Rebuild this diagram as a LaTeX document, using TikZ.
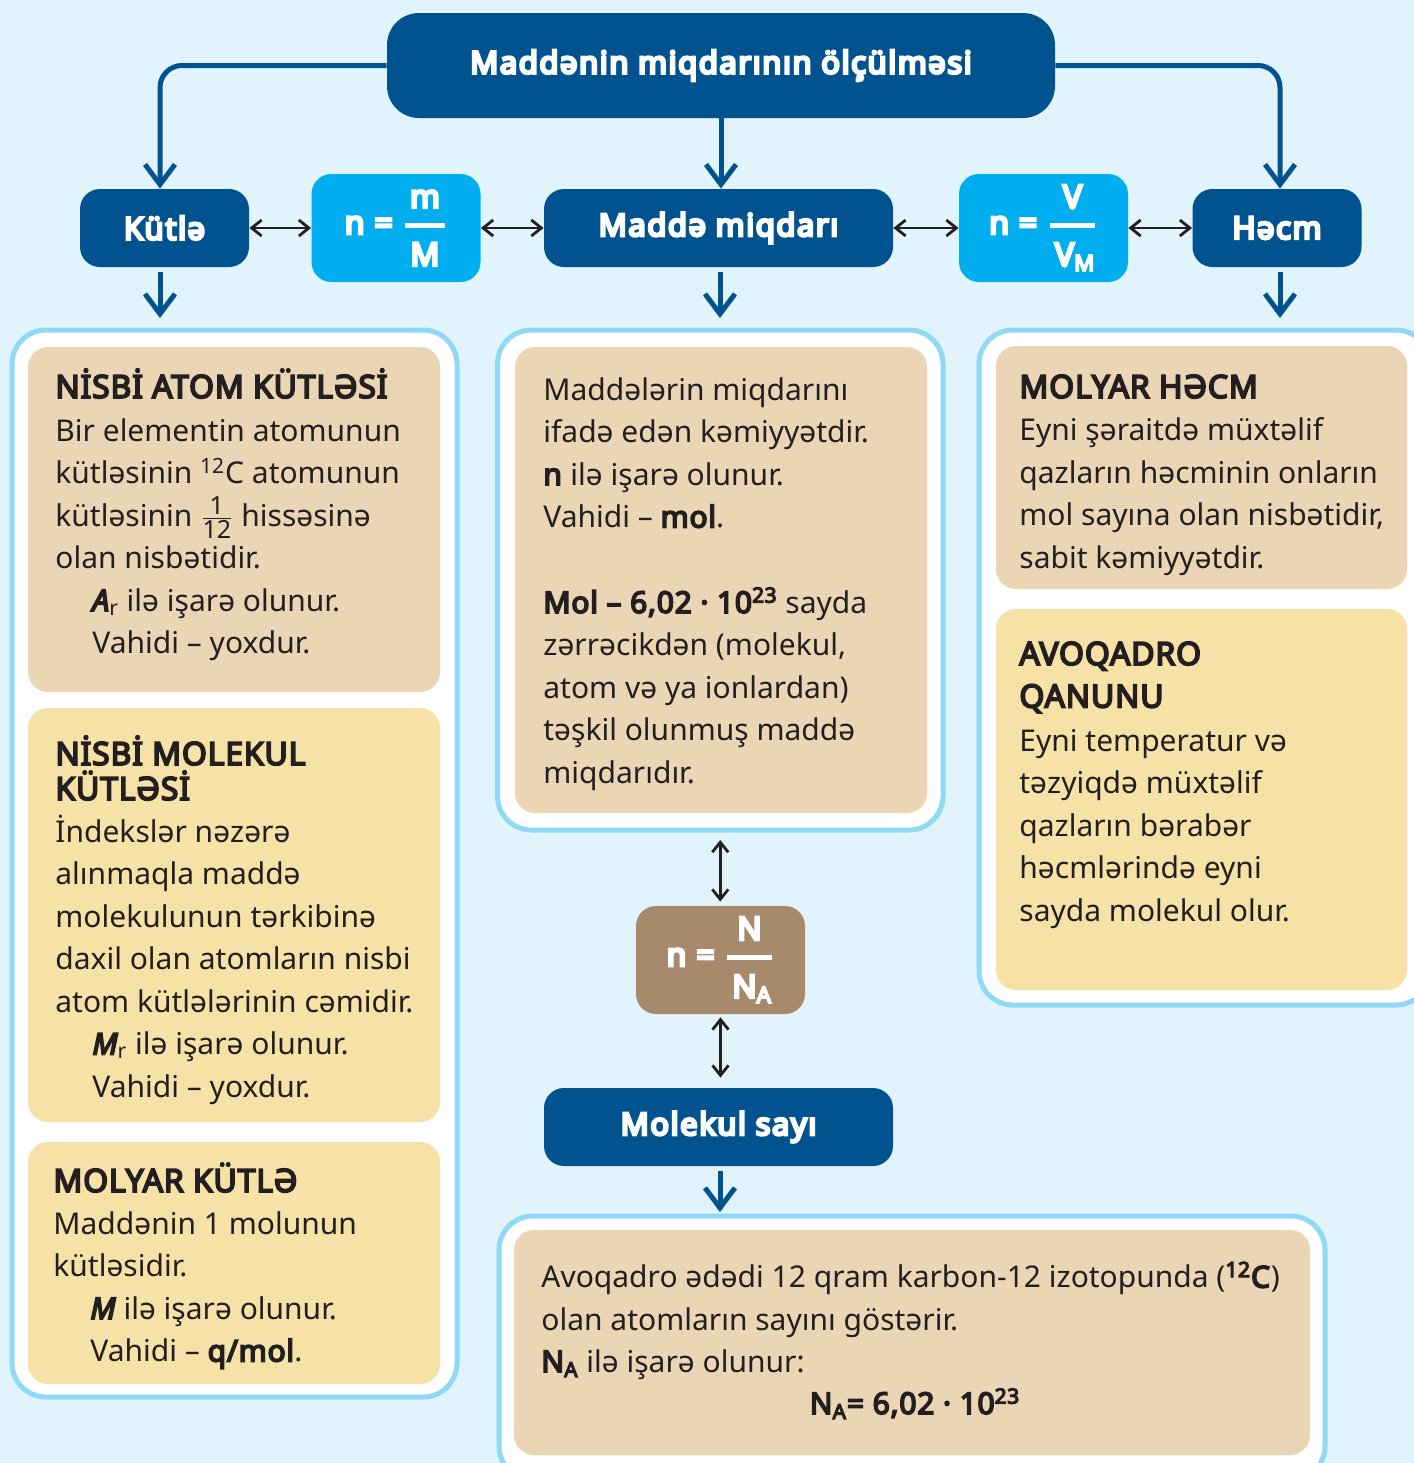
\documentclass[tikz,border=0pt]{standalone}
\usepackage{amsmath}
\usepackage{fontspec}
\usetikzlibrary{arrows.meta}
\setmainfont{Noto Sans}[BoldFont={Noto Sans}, BoldFeatures={FakeBold=5.5, LetterSpace=2.5},
  BoldItalicFeatures={FakeBold=5.5}]
\newfontfamily\heavyfont{Noto Sans}[FakeBold=8.5, LetterSpace=5]

\definecolor{bgblue}{HTML}{E1F3FB}
\definecolor{dblue}{HTML}{00538F}
\definecolor{cyanbox}{HTML}{00AEEF}
\definecolor{panelline}{HTML}{90D9F6}
\definecolor{tancard}{HTML}{EAD5B4}
\definecolor{yellowcard}{HTML}{F6E1A7}
\definecolor{brownbox}{HTML}{A68A6B}
\definecolor{inkcol}{HTML}{231F20}

\newcommand\txtbody{\fontsize{15}{18}\selectfont}
\newcommand\txthead{\fontsize{16}{19}\selectfont\bfseries}
\newcommand\txtbox{\heavyfont\fontsize{15.5}{19}\selectfont}
\newcommand\txtform{\heavyfont\fontsize{16}{19}\selectfont}

\begin{document}
\begin{tikzpicture}[x=0.5pt,y=-0.5pt,
  darkbox/.style={fill=dblue, rounded corners=10pt, text=white, font=\txtbox,
    inner sep=0pt, minimum width=84.5pt, minimum height=39pt},
  widebox/.style={darkbox, minimum width=174.5pt},
  formbox/.style={fill=cyanbox, rounded corners=10pt, text=white, font=\txtform,
    inner sep=0pt, minimum width=84.5pt, minimum height=54pt},
  panel/.style={draw=panelline, line width=2.5pt, fill=white, rounded corners=17pt,
    inner sep=0pt, outer sep=0pt},
  card/.style={rounded corners=10pt, inner sep=0pt, outer sep=0pt, minimum width=206pt},
  bluearrow/.style={draw=dblue, line width=2.5pt, -{Straight Barb[length=10pt,width=15pt]}},
  dblarrow/.style={draw=inkcol, line width=1.4pt,
    {Straight Barb[length=5pt,width=8pt]}-{Straight Barb[length=5pt,width=8pt]}},
  body/.style={anchor=base west, inner sep=0pt, font=\txtbody, text=inkcol},
  head/.style={anchor=base west, inner sep=0pt, font=\txthead, text=inkcol}]

\clip (0,0) rectangle (1414,1463);
\fill[bgblue] (0,0) rectangle (1414,1463);

% ---- top row -------------------------------------------------------
\node[darkbox, minimum width=334pt, minimum height=52.5pt, rounded corners=16pt]
  (top) at (721,65.5) {Maddənin miqdarının ölçülməsi};

\node[darkbox] (kut) at (164.5,228) {Kütlə};
\node[formbox] (fm1) at (396,228)
  {n = \(\genfrac{}{}{2.5pt}{0}{\text{m}}{\text{\,M\,}}\)};
\node[widebox] (mad) at (718.5,228) {Maddə miqdarı};
\node[formbox] (fm2) at (1043.5,228)
  {n = \(\genfrac{}{}{2.5pt}{0}{\text{V}}{\text{\,V\textsubscript{M}}}\)};
\node[darkbox] (hecm) at (1277,228) {Həcm};

\draw[bluearrow, rounded corners=11pt] (top.west) -| ([xshift=-2.25pt]kut.north);
\draw[bluearrow, rounded corners=11pt] (top.east) -| ([xshift=1.5pt]hecm.north);
\draw[bluearrow] (top.south) -- (top.south |- mad.north);

\draw[dblarrow] (kut) -- (fm1);
\draw[dblarrow] (fm1) -- (mad);
\draw[dblarrow] (mad) -- (fm2);
\draw[dblarrow] (fm2) -- (hecm);

\coordinate (kd) at (160,318);
\coordinate (md) at (720,318);
\coordinate (hd) at (1280,318);
\draw[bluearrow, shorten <=2.5pt] (kut.south -| kd) -- (kd);
\draw[bluearrow, shorten <=2.5pt] (mad.south -| md) -- (md);
\draw[bluearrow, shorten <=2.5pt] (hecm.south -| hd) -- (hd);

% ---- panels --------------------------------------------------------
\node[panel, minimum width=222.5pt, minimum height=533.5pt] (lpanel) at (234.5,863.5) {};
\node[panel, minimum width=222.75pt, minimum height=250pt] (mpanel) at (720.25,580) {};
\node[panel, minimum width=225.5pt, minimum height=337.5pt] (rpanel) at (1204.5,667.5) {};
\node[panel, minimum width=413pt, minimum height=132pt] (bpanel) at (912,1348) {};

\node[card, fill=tancard, minimum height=172.5pt] (l1) at (234,519.5) {};
\node[card, fill=yellowcard, minimum height=207pt] (l2) at (234,915) {};
\node[card, fill=yellowcard, minimum height=121pt] (l3) at (234,1263) {};
\node[card, fill=tancard, minimum height=233pt] (m1) at (721,580) {};
\node[card, fill=tancard, minimum width=205.5pt, minimum height=121.5pt] (r1) at (1201.5,467.5) {};
\node[card, fill=yellowcard, minimum width=205.5pt, minimum height=190.5pt] (r2) at (1201.5,799.5) {};
\node[card, fill=tancard, minimum width=398pt, minimum height=112.5pt] (b1) at (912,1342.5) {};

% ---- middle column -------------------------------------------------
\node[fill=brownbox, rounded corners=10pt, text=white, font=\txtform, inner sep=0pt,
  minimum width=84.5pt, minimum height=54pt] (fm3) at (720.5,960)
  {n = \(\genfrac{}{}{2.5pt}{0}{\text{N}}{\text{\,N\textsubscript{A}}}\)};
\node[widebox] (mol) at (718.5,1127) {Molekul sayı};

\draw[dblarrow, shorten <=5pt, shorten >=2pt] (mpanel.south) -- (mpanel.south |- fm3.north);
\draw[dblarrow, shorten <=1.5pt, shorten >=5pt] (fm3.south) -- (fm3.south |- mol.north);
\coordinate (bd) at (720,1212);
\draw[bluearrow, shorten <=2.5pt] (mol.south -| bd) -- (bd);

% ---- left column texts ---------------------------------------------
\node[head] (l1h) at (55,398) {NİSBİ ATOM KÜTLƏSİ};
\foreach \s [count=\i from 0] in {Bir elementin atomunun,
    {kütləsinin \textsuperscript{12}C atomunun},
    {kütləsinin \(\genfrac{}{}{0.6pt}{1}{\text{\fontsize{12.5}{13}\selectfont 1}}{\text{\fontsize{12.5}{13}\selectfont 12}}\) hissəsinə},
    olan nisbətidir.}
  \node[body] (l1t\i) at (55,{441+42.5*\i}) {\s};
\node[body] (l1u) at (92,611) {\textbf{\textit{A}}\textsubscript{r} ilə işarə olunur.};
\node[body] (l1v) at (92,653.5) {Vahidi – yoxdur.};

\node[head] (l2h) at (55,765) {NİSBİ MOLEKUL};
\node[head] (l2g) at (55,800) {KÜTLƏSİ};
\foreach \s [count=\i from 0] in {İndekslər nəzərə, alınmaqla maddə,
    molekulunun tərkibinə, daxil olan atomların nisbi, atom kütlələrinin cəmidir.}
  \node[body] (l2t\i) at (55,{842+42.5*\i}) {\s};
\node[body] (l2u) at (92,1054.5) {\textbf{\textit{M}}\textsubscript{r} ilə işarə olunur.};
\node[body] (l2v) at (92,1097) {Vahidi – yoxdur.};

\node[head] (l3h) at (53,1192) {MOLYAR KÜTLƏ};
\node[body] (l3t0) at (53,1234) {Maddənin 1 molunun};
\node[body] (l3t1) at (53,1276.5) {kütləsidir.};
\node[body] (l3u) at (90,1319) {\textbf{\textit{M}} ilə işarə olunur.};
\node[body] (l3v) at (90,1361.5) {Vahidi – \textbf{q/mol}.};

% ---- middle card text ----------------------------------------------
\foreach \s [count=\i from 0] in {Maddələrin miqdarını, ifadə edən kəmiyyətdir.,
    \textbf{n} ilə işarə olunur., Vahidi – \textbf{mol}.}
  \node[body] (m1t\i) at (543,{400+42.5*\i}) {\s};
\foreach \s [count=\i from 0] in {\textbf{Mol – 6,02 · 10\textsuperscript{23}} sayda,
    {zərrəcikdən (molekul,}, atom və ya ionlardan), təşkil olunmuş maddə, miqdarıdır.}
  \node[body] (m1s\i) at (543,{613+42.5*\i}) {\s};

% ---- right column texts --------------------------------------------
\node[head] (r1h) at (1019,398) {MOLYAR HƏCM};
\foreach \s [count=\i from 0] in {Eyni şəraitdə müxtəlif, qazların həcminin onların,
    {mol sayına olan nisbətidir,}, sabit kəmiyyətdir.}
  \node[body] (r1t\i) at (1019,{440.5+42.5*\i}) {\s};

\node[head] (r2h) at (1019,665) {AVOQADRO};
\node[head] (r2g) at (1019,707.5) {QANUNU};
\foreach \s [count=\i from 0] in {Eyni temperatur və, təzyiqdə müxtəlif,
    qazların bərabər, həcmlərində eyni, sayda molekul olur.}
  \node[body] (r2t\i) at (1019,{751+42.5*\i}) {\s};

% ---- bottom card text ----------------------------------------------
\node[body] (b1t0) at (541,1287.5)
  {Avoqadro ədədi 12 qram karbon-12 izotopunda (\textbf{\textsuperscript{12}C})};
\node[body] (b1t1) at (541,1330) {olan atomların sayını göstərir.};
\node[body] (b1t2) at (541,1372) {\textbf{N\textsubscript{A}} ilə işarə olunur:};
\node[body, anchor=base] (b1f) at (915,1414)
  {\textbf{N\textsubscript{A}= 6,02 · 10\textsuperscript{23}}};

\end{tikzpicture}
\end{document}
